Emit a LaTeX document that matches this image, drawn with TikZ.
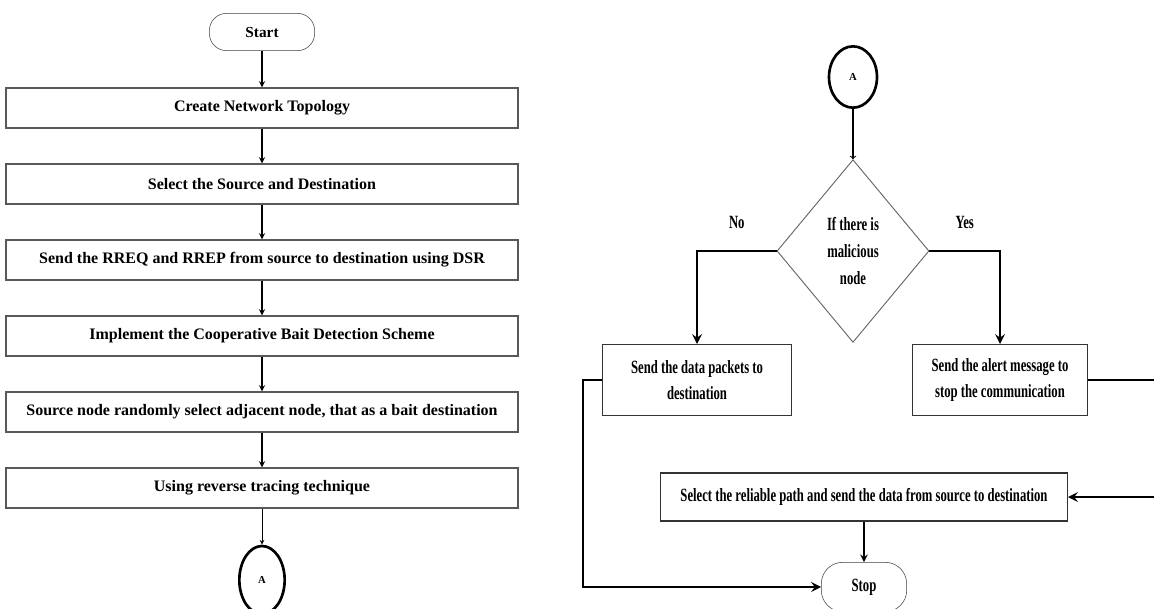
\documentclass[tikz,border=0pt]{standalone}
\usepackage{fontspec}
\setmainfont{Liberation Serif}
\newfontfamily\narrowserif[FakeStretch=0.68]{Liberation Serif}
\usepackage{tikz}
\usetikzlibrary{shapes.geometric, arrows, positioning}
\tikzstyle{terminator} = [rectangle, draw=black!75, text centered,
                          rounded corners=13pt, minimum width=79pt,
                          minimum height=28pt,
                          font=\fontsize{11.5}{13}\selectfont\bfseries]
\tikzstyle{process} = [rectangle, draw=black!65, line width=0.8pt,
                       text centered, minimum width=384pt, minimum height=30pt,
                       font=\fontsize{12}{14}\selectfont\bfseries]
\tikzstyle{narrowbox} = [rectangle, draw=black!80, line width=1pt,
                         align=center, minimum height=53pt,
                         font=\narrowserif\fontsize{14}{20}\selectfont\bfseries]
\tikzstyle{decision} = [diamond, draw=black!60, line width=0.7pt,
                        align=center, inner sep=0pt, minimum width=114pt,
                        minimum height=137pt,
                        font=\narrowserif\fontsize{14}{20}\selectfont\bfseries]
\tikzstyle{connector} = [ellipse, draw, line width=2pt, inner sep=0pt,
                         font=\fontsize{8}{9}\selectfont\bfseries]
\tikzstyle{branch} = [font=\narrowserif\fontsize{14}{20}\selectfont\bfseries]
\tikzstyle{arrow} = [line width=1.1pt,->,>=stealth]
\tikzstyle{thinarrow} = [line width=0.6pt,->,>=stealth]
\tikzstyle{openarrow} = [line width=0.8pt,->,>=to]
\tikzstyle{thickarrow} = [line width=2.2pt,->,>=stealth]

\begin{document}
\begin{tikzpicture}[x=0.75pt, y=-0.75pt, node distance = 57pt]
\useasboundingbox (0,0) rectangle (1154,608);
% left part
\node [terminator] at (262,32) (start) {Start};
\node [process, below of=start] (topology) {Create Network Topology};
\node [process, below of=topology] (select)
	{Select the Source and Destination};
\node [process, below of=select] (rreq)
	{Send the RREQ and RREP from source to destination using DSR};
\node [process, below of=rreq] (bait_scheme)
	{Implement the Cooperative Bait Detection Scheme};
\node [process, below of=bait_scheme] (adjacent)
	{Source node randomly select adjacent node, that as a bait destination};
\node [process, below of=adjacent] (tracing)
	{Using reverse tracing technique};
\node [connector, below of=tracing, yshift = -12pt, minimum width=34pt,
	minimum height=51pt] (goto_a) {A};
\draw [arrow] (start) -- (topology);
\draw [arrow] (topology) -- (select);
\draw [arrow] (select) -- (rreq);
\draw [arrow] (rreq) -- (bait_scheme);
\draw [arrow] (bait_scheme) -- (adjacent);
\draw [arrow] (adjacent) -- (tracing);
\draw [thinarrow] (tracing) -- (goto_a);
% right part
\node [connector, minimum width=36pt, minimum height=46pt] at (853,77)
	(from_a) {A};
\node [decision, below of=from_a, yshift = -73.5pt] (malicious)
	{If there is\\malicious\\node};
\node [narrowbox, minimum width=141.75pt] at (697,380) (send_data)
	{Send the data packets to\\destination};
\node [narrowbox, minimum width=131.25pt] at (1000,380) (alert)
	{Send the alert message to\\stop the communication};
\node [narrowbox, minimum width=305pt, minimum height=36pt] at (864,497)
	(reliable)
	{Select the reliable path and send the data from source to destination};
\node [terminator, below of=reliable, yshift = -10.5pt, minimum width=64pt,
	minimum height=37pt, rounded corners=16pt,
	font=\narrowserif\fontsize{14}{20}\selectfont\bfseries] (stop) {Stop};
\draw [openarrow] (from_a) -- (malicious);
\draw [thickarrow] (malicious.west) -| node[branch, pos=0.25, above=12pt]
	(no) {No} (send_data.north);
\draw [thickarrow] (malicious.east) -| node[branch, pos=0.25, above=12pt]
	(yes) {Yes} (alert.north);
\coordinate [right of = alert, xshift = 63pt] (alert_bend);
\draw [thickarrow] (alert.east) -- (alert_bend) |- (reliable.east);
\coordinate [left of = send_data, xshift = -28.5pt] (data_bend);
\draw [thickarrow] (send_data.west) -- (data_bend) |- (stop.west);
\draw [arrow, line width=1.5pt] (reliable) -- (stop);
\end{tikzpicture}
\end{document}
